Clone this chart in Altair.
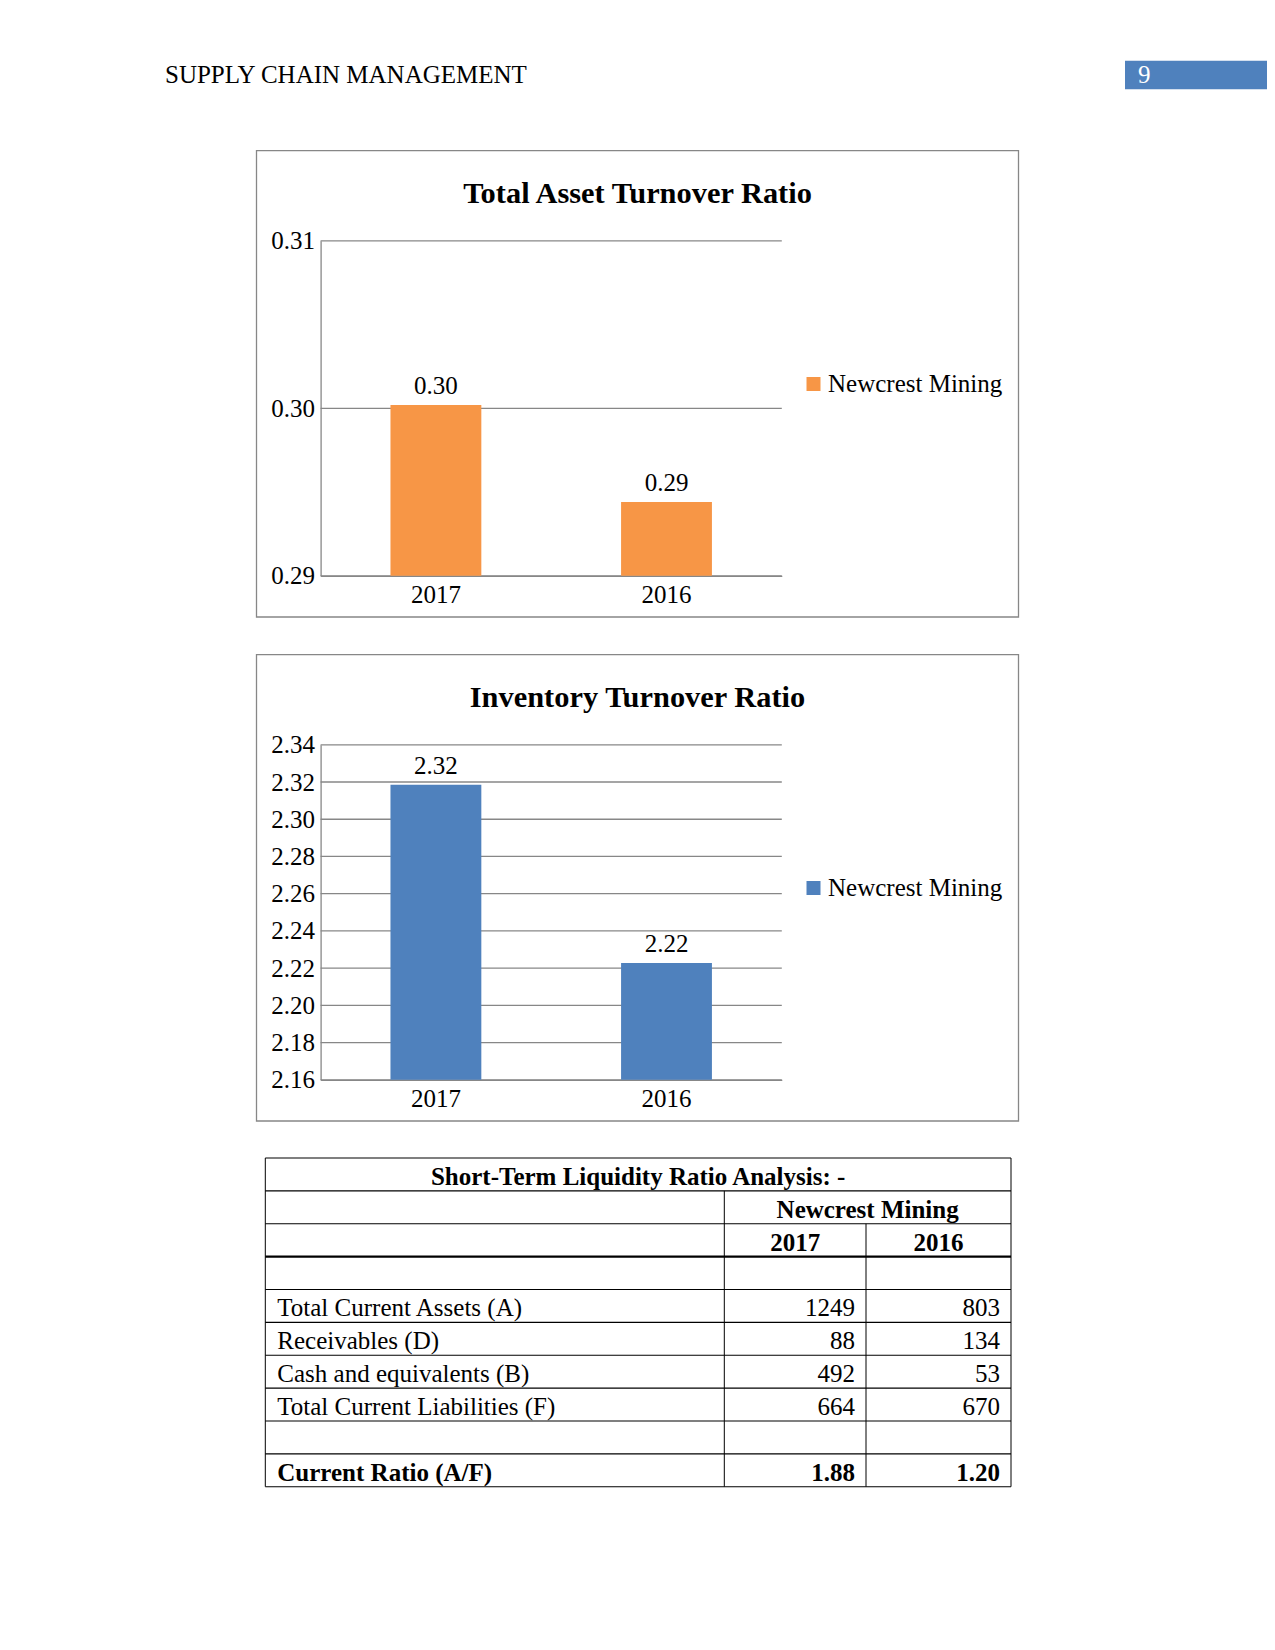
import altair as alt
import pandas as pd

FONT = "Liberation Serif"
GRAY = "#878787"

# ---------------- data ----------------
header_title = "SUPPLY CHAIN MANAGEMENT"
page_number = "9"

years = ["2017", "2016"]
series_name = "Newcrest Mining"

asset_title = "Total Asset Turnover Ratio"
asset_values = [0.3002, 0.2944]
asset_ticks = [0.29, 0.30, 0.31]

inv_title = "Inventory Turnover Ratio"
inv_values = [2.3185, 2.2227]
inv_ticks = [2.16, 2.18, 2.20, 2.22, 2.24, 2.26, 2.28, 2.30, 2.32, 2.34]

table_title = "Short-Term Liquidity Ratio Analysis: -"
table_company = "Newcrest Mining"
table_years = ["2017", "2016"]
item_labels = ["Total Current Assets (A)", "Receivables (D)",
               "Cash and equivalents (B)", "Total Current Liabilities (F)"]
item_2017 = [1249, 88, 492, 664]
item_2016 = [803, 134, 53, 670]
ratio_label = "Current Ratio (A/F)"
ratio_2017 = 1.88
ratio_2016 = 1.20

PANEL_W = 1259


def one(text):
    return pd.DataFrame({"t": [text]})


# ---------------- header ----------------
header = alt.layer(
    alt.Chart(one(header_title)).mark_text(
        font=FONT, fontSize=25, align="left", baseline="alphabetic", color="black"
    ).encode(x=alt.value(157), y=alt.value(75.3), text="t:N"),
    alt.Chart(one(page_number)).mark_rect(fill="#4F81BD").encode(
        x=alt.value(1117), x2=alt.value(PANEL_W), y=alt.value(52.7), y2=alt.value(81.3)
    ),
    alt.Chart(one(page_number)).mark_text(
        font=FONT, fontSize=25, align="left", baseline="alphabetic", color="white"
    ).encode(x=alt.value(1130), y=alt.value(75.3), text="t:N"),
).properties(width=PANEL_W, height=122)


# ---------------- bar panels ----------------
def bar_panel(title, values, ticks, color):
    H = 504
    X0, X1 = 312.6, 773.8
    Y0, Y1 = 445.8, 110.8
    df = pd.DataFrame({"year": years, "value": values, "base": ticks[0],
                       "series": series_name})
    tick_df = pd.DataFrame({"tick": ticks})
    xs = alt.Scale(domain=years, range=[X0, X1], paddingInner=0.606, paddingOuter=0.303)
    ys = alt.Scale(domain=[ticks[0], ticks[-1]], range=[Y0, Y1], zero=False, nice=False)
    x_axis = alt.Axis(
        title=None, orient="bottom", offset=Y0 - H, labelAngle=0,
        ticks=False, tickSize=0, labelPadding=27, labelBaseline="alphabetic",
        domainColor=GRAY, domainWidth=1.3, labelFont=FONT, labelFontSize=25,
        labelColor="black", grid=False)
    y_axis = alt.Axis(
        title=None, orient="left", offset=-X0, values=ticks, format=".2f",
        ticks=False, tickSize=0, grid=False, labelPadding=6,
        domainColor=GRAY, domainWidth=1.3, labelFont=FONT, labelFontSize=25,
        labelColor="black")

    frame = alt.Chart(one(title)).mark_rect(
        filled=False, stroke=GRAY, strokeWidth=1.3
    ).encode(x=alt.value(248.5), x2=alt.value(1010.5), y=alt.value(20.7), y2=alt.value(487))

    head = alt.Chart(one(title)).mark_text(
        font=FONT, fontSize=30.4, fontWeight="bold", align="center",
        baseline="alphabetic", color="black"
    ).encode(x=alt.value(629.5), y=alt.value(72.7), text="t:N")

    grid = alt.Chart(tick_df).mark_rule(color=GRAY, strokeWidth=1.3).encode(
        y=alt.Y("tick:Q", scale=ys, axis=y_axis),
        x=alt.value(X0), x2=alt.value(X1),
    )

    bars = alt.Chart(df).mark_bar().encode(
        x=alt.X("year:N", scale=xs, axis=x_axis),
        y=alt.Y("value:Q", scale=ys, axis=y_axis),
        y2=alt.Y2("base:Q"),
        color=alt.Color("series:N", scale=alt.Scale(domain=[series_name], range=[color]),
                        legend=alt.Legend(title=None, orient="none", legendX=793,
                                          legendY=241.5, symbolType="square",
                                          symbolSize=196, symbolStrokeWidth=0,
                                          labelFont=FONT, labelFontSize=25,
                                          labelColor="black", labelOffset=2,
                                          labelLimit=400)),
    )

    labels = alt.Chart(df).mark_text(
        font=FONT, fontSize=25, align="center", baseline="alphabetic", dy=-11,
        color="black"
    ).encode(
        x=alt.X("year:N", scale=xs, axis=x_axis),
        y=alt.Y("value:Q", scale=ys, axis=y_axis),
        text=alt.Text("value:Q", format=".2f"),
    )

    return alt.layer(frame, head, grid, bars, labels).properties(width=PANEL_W, height=H)


chart1 = bar_panel(asset_title, asset_values, asset_ticks, "#F79646")
chart2 = bar_panel(inv_title, inv_values, inv_ticks, "#4F81BD")

# ---------------- table ----------------
L, D1, D2, R = 257.3, 716.3, 858.0, 1003.0
rows_y = alt.Scale(domain=[0, 10], range=[20, 348.7])


def tline(rows, width):
    return alt.Chart(pd.DataFrame({"r": rows})).mark_rule(
        color="black", strokeWidth=width
    ).encode(y=alt.Y("r:Q", scale=rows_y, axis=None), x=alt.value(L), x2=alt.value(R))


def vline(xpos, start):
    return alt.Chart(pd.DataFrame({"a": [start], "b": [10]})).mark_rule(
        color="black", strokeWidth=1
    ).encode(y=alt.Y("a:Q", scale=rows_y, axis=None), y2="b:Q", x=alt.value(xpos))


def ttext(texts, rows, xpos, align, bold=False):
    df = pd.DataFrame({"t": texts, "yb": [r + 1 for r in rows]})
    return alt.Chart(df).mark_text(
        font=FONT, fontSize=25, align=align, baseline="alphabetic", dy=-6,
        fontWeight="bold" if bold else "normal", color="black"
    ).encode(y=alt.Y("yb:Q", scale=rows_y, axis=None), x=alt.value(xpos), text="t:N")


item_rows = [4, 5, 6, 7]
table = alt.layer(
    tline([0, 1, 2, 4, 5, 6, 7, 8, 9, 10], 1.1),
    tline([3], 2.2),
    vline(L, 0), vline(R, 0), vline(D1, 1), vline(D2, 2),
    ttext([table_title], [0], (L + R) / 2, "center", True),
    ttext([table_company], [1], (D1 + R) / 2, "center", True),
    ttext([table_years[0]], [2], (D1 + D2) / 2, "center", True),
    ttext([table_years[1]], [2], (D2 + R) / 2, "center", True),
    ttext(item_labels, item_rows, L + 12, "left"),
    ttext([str(v) for v in item_2017], item_rows, D2 - 11, "right"),
    ttext([str(v) for v in item_2016], item_rows, R - 11, "right"),
    ttext([ratio_label], [9], L + 12, "left", True),
    ttext([f"{ratio_2017:.2f}"], [9], D2 - 11, "right", True),
    ttext([f"{ratio_2016:.2f}"], [9], R - 11, "right", True),
).properties(width=PANEL_W, height=362)

chart = alt.vconcat(header, chart1, chart2, table, spacing=0, bounds="flush").properties(
    padding=0
).resolve_scale(color="independent").configure_view(strokeWidth=0)

chart.save("out.html", embed_options={"renderer": "svg", "actions": False})
